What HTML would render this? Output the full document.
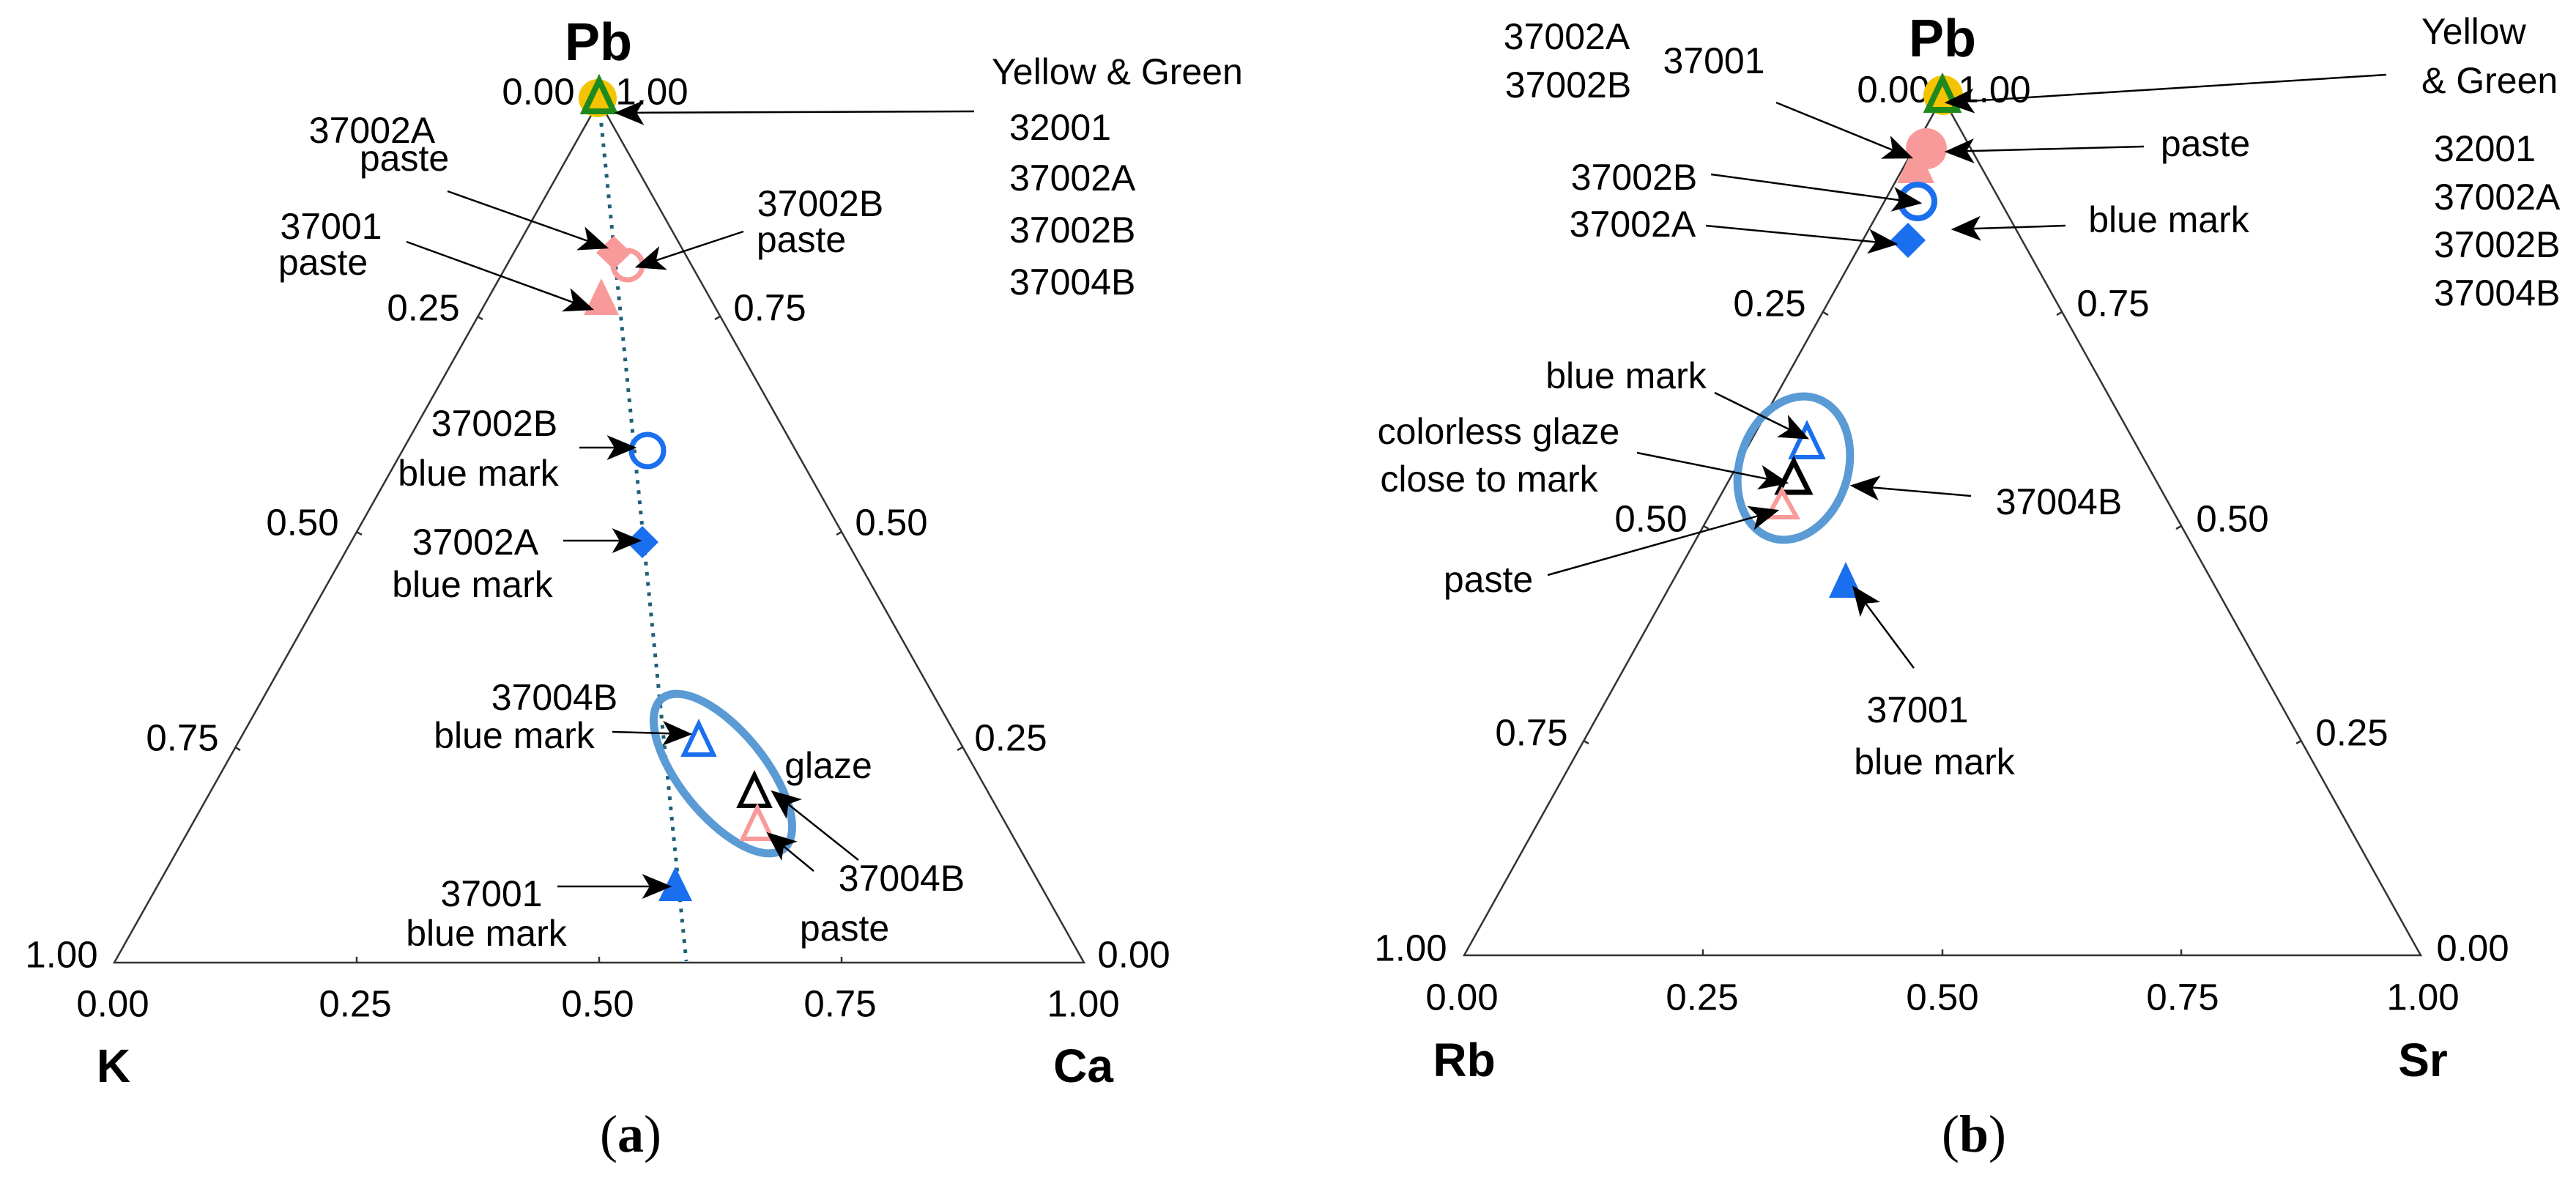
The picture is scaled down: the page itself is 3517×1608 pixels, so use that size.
<!DOCTYPE html>
<html><head><meta charset="utf-8"><style>
html,body{margin:0;padding:0;background:#fff;}
svg{display:block;}
text{font-family:"Liberation Sans",sans-serif;fill:#000;}
</style></head><body>
<svg width="3517" height="1608" viewBox="0 0 3517 1608" xmlns="http://www.w3.org/2000/svg">
<defs>
<marker id="ar" viewBox="0 0 10 10" refX="10" refY="5" markerWidth="11" markerHeight="11" markerUnits="userSpaceOnUse" orient="auto">
</marker>
<marker id="a" viewBox="0 0 12 10" refX="11" refY="5" markerWidth="42" markerHeight="34" markerUnits="userSpaceOnUse" orient="auto"><path d="M0,0 L12,5 L0,10 L3,5 Z" fill="#000"/></marker>
</defs>

<!-- ============ PANEL A ============ -->
<g stroke="#333" stroke-width="2.5" fill="none">
<path d="M818,138 L156,1314 L1480,1314 Z"/>
<!-- ticks bottom -->
<path d="M487,1314 v-8 M818,1314 v-8 M1149,1314 v-8"/>
<path d="M652,432 l7,4 M487,726 l7,4 M321,1020 l7,4"/>
<path d="M983,432 l-7,4 M1149,726 l-7,4 M1314,1020 l-7,4"/>
</g>
<line x1="818" y1="140" x2="937" y2="1312" stroke="#1f5f7a" stroke-width="5" stroke-dasharray="5,9"/>

<g font-size="51" text-anchor="middle" dominant-baseline="central">
<text x="817" y="58" font-size="72" font-weight="bold">Pb</text>
<text x="735" y="125">0.00</text><text x="890" y="125">1.00</text>
<text x="578" y="420">0.25</text><text x="413" y="713">0.50</text><text x="249" y="1007">0.75</text><text x="84" y="1303">1.00</text>
<text x="1051" y="420">0.75</text><text x="1217" y="713">0.50</text><text x="1380" y="1007">0.25</text><text x="1548" y="1303">0.00</text>
<text x="154" y="1370">0.00</text><text x="485" y="1370">0.25</text><text x="816" y="1370">0.50</text><text x="1147" y="1370">0.75</text><text x="1479" y="1370">1.00</text>
<text x="155" y="1455" font-size="64" font-weight="bold">K</text>
<text x="1479" y="1455" font-size="64" font-weight="bold">Ca</text>
<text x="861" y="1548" font-size="72" style="font-family:'Liberation Serif',serif">(<tspan font-weight="bold">a</tspan>)</text>
</g>
<g font-size="50" dominant-baseline="central">
<text x="1354" y="98">Yellow &amp; Green</text>
<text x="1378" y="174">32001</text><text x="1378" y="243">37002A</text><text x="1378" y="314">37002B</text><text x="1378" y="385">37004B</text>
</g>
<g font-size="50" text-anchor="middle" dominant-baseline="central">
<text x="508" y="178">37002A</text><text x="552" y="216">paste</text>
<text x="452" y="309">37001</text><text x="441" y="358">paste</text>
<text x="1120" y="278">37002B</text><text x="1094" y="327">paste</text>
<text x="675" y="578">37002B</text><text x="653" y="646">blue mark</text>
<text x="649" y="740">37002A</text><text x="645" y="798">blue mark</text>
<text x="757" y="952">37004B</text><text x="702" y="1004">blue mark</text>
<text x="1131" y="1045">glaze</text>
<text x="1231" y="1199">37004B</text><text x="1153" y="1267">paste</text>
<text x="671" y="1220">37001</text><text x="664" y="1274">blue mark</text>
</g>

<!-- markers A -->
<circle cx="816" cy="134" r="26" fill="#f5c400"/>
<path d="M818,110 L838,152 L798,152 Z" fill="none" stroke="#1e8a1e" stroke-width="8"/>
<path d="M838,322 L862,345 L838,368 L814,345 Z" fill="#f99a9a"/>
<circle cx="857" cy="362" r="20" fill="none" stroke="#f99a9a" stroke-width="7"/>
<path d="M821,380 L845,430 L797,430 Z" fill="#f99a9a"/>
<circle cx="884" cy="615" r="22" fill="none" stroke="#1a6fef" stroke-width="7"/>
<path d="M877,718 L899,740 L877,762 L855,740 Z" fill="#1a6fef"/>
<ellipse cx="987" cy="1056" rx="58" ry="132" transform="rotate(-39 987 1056)" fill="none" stroke="#5b9bd5" stroke-width="11"/>
<path d="M954,988 L974,1030 L934,1030 Z" fill="none" stroke="#1a6fef" stroke-width="6"/>
<path d="M1030,1058 L1050,1100 L1010,1100 Z" fill="none" stroke="#000" stroke-width="6"/>
<path d="M1034,1103 L1054,1145 L1014,1145 Z" fill="none" stroke="#f99a9a" stroke-width="6"/>
<path d="M922,1183 L945,1230 L899,1230 Z" fill="#1a6fef"/>

<g stroke="#000" stroke-width="2.5" fill="none" marker-end="url(#a)">
<line x1="1330" y1="152" x2="842" y2="154"/>
<line x1="611" y1="261" x2="828" y2="338"/>
<line x1="555" y1="330" x2="808" y2="422"/>
<line x1="1015" y1="316" x2="870" y2="364"/>
<line x1="791" y1="611" x2="866" y2="611"/>
<line x1="769" y1="738" x2="873" y2="738"/>
<line x1="836" y1="999" x2="942" y2="1002"/>
<line x1="1172" y1="1174" x2="1055" y2="1081"/>
<line x1="1111" y1="1189" x2="1049" y2="1138"/>
<line x1="761" y1="1210" x2="914" y2="1210"/>
</g>

<!-- ============ PANEL B ============ -->
<g stroke="#333" stroke-width="2.5" fill="none">
<path d="M2652,133 L1999,1304 L3305,1304 Z"/>
<path d="M2325,1304 v-8 M2652,1304 v-8 M2978,1304 v-8"/>
<path d="M2489,426 l7,4 M2326,718 l7,4 M2162,1011 l7,4"/>
<path d="M2815,426 l-7,4 M2978,718 l-7,4 M3142,1011 l-7,4"/>
</g>
<g font-size="51" text-anchor="middle" dominant-baseline="central">
<text x="2652" y="53" font-size="72" font-weight="bold">Pb</text>
<text x="2585" y="122">0.00</text><text x="2723" y="122">1.00</text>
<text x="2416" y="414">0.25</text><text x="2254" y="708">0.50</text><text x="2091" y="1000">0.75</text><text x="1926" y="1294">1.00</text>
<text x="2885" y="414">0.75</text><text x="3048" y="708">0.50</text><text x="3211" y="1000">0.25</text><text x="3376" y="1294">0.00</text>
<text x="1996" y="1361">0.00</text><text x="2324" y="1361">0.25</text><text x="2652" y="1361">0.50</text><text x="2980" y="1361">0.75</text><text x="3308" y="1361">1.00</text>
<text x="1999" y="1447" font-size="64" font-weight="bold">Rb</text>
<text x="3308" y="1447" font-size="64" font-weight="bold">Sr</text>
<text x="2695" y="1548" font-size="72" style="font-family:'Liberation Serif',serif">(<tspan font-weight="bold">b</tspan>)</text>
</g>
<g font-size="50" dominant-baseline="central">
<text x="3306" y="43">Yellow</text><text x="3306" y="110">&amp; Green</text>
<text x="3323" y="203">32001</text><text x="3323" y="269">37002A</text><text x="3323" y="334">37002B</text><text x="3323" y="400">37004B</text>
</g>
<g font-size="50" text-anchor="middle" dominant-baseline="central">
<text x="2139" y="50">37002A</text><text x="2141" y="116">37002B</text><text x="2340" y="83">37001</text>
<text x="3011" y="196">paste</text>
<text x="2231" y="242">37002B</text><text x="2229" y="306">37002A</text>
<text x="2961" y="300">blue mark</text>
<text x="2220" y="513">blue mark</text>
<text x="2046" y="589">colorless glaze</text><text x="2033" y="654">close to mark</text>
<text x="2811" y="685">37004B</text>
<text x="2032" y="791">paste</text>
<text x="2618" y="969">37001</text><text x="2641" y="1040">blue mark</text>
</g>

<!-- markers B -->
<circle cx="2653" cy="130" r="27" fill="#f5c400"/>
<path d="M2652,108 L2672,150 L2632,150 Z" fill="none" stroke="#1e8a1e" stroke-width="8"/>
<path d="M2615,195 L2641,250 L2590,250 Z" fill="#f99a9a"/>
<circle cx="2630" cy="203" r="28" fill="#f99a9a"/>
<circle cx="2618" cy="275" r="23" fill="none" stroke="#1a6fef" stroke-width="8"/>
<path d="M2605,304 L2629,328 L2605,352 L2581,328 Z" fill="#1a6fef"/>
<ellipse cx="2449" cy="639" rx="74" ry="100" transform="rotate(18 2449 639)" fill="none" stroke="#5b9bd5" stroke-width="11"/>
<path d="M2467,580 L2488,624 L2446,624 Z" fill="none" stroke="#1a6fef" stroke-width="6"/>
<path d="M2449,630 L2470,672 L2428,672 Z" fill="none" stroke="#000" stroke-width="7"/>
<path d="M2433,670 L2453,706 L2413,706 Z" fill="none" stroke="#f99a9a" stroke-width="6"/>
<path d="M2520,767 L2543,816 L2497,816 Z" fill="#1a6fef"/>

<g stroke="#000" stroke-width="2.5" fill="none" marker-end="url(#a)">
<line x1="3258" y1="102" x2="2658" y2="140"/>
<line x1="2425" y1="140" x2="2609" y2="215"/>
<line x1="2927" y1="200" x2="2658" y2="207"/>
<line x1="2336" y1="238" x2="2621" y2="277"/>
<line x1="2329" y1="308" x2="2588" y2="333"/>
<line x1="2820" y1="308" x2="2667" y2="313"/>
<line x1="2341" y1="536" x2="2467" y2="598"/>
<line x1="2235" y1="618" x2="2439" y2="659"/>
<line x1="2691" y1="677" x2="2529" y2="663"/>
<line x1="2113" y1="785" x2="2426" y2="697"/>
<line x1="2613" y1="912" x2="2531" y2="802"/>
</g>
</svg>
</body></html>
